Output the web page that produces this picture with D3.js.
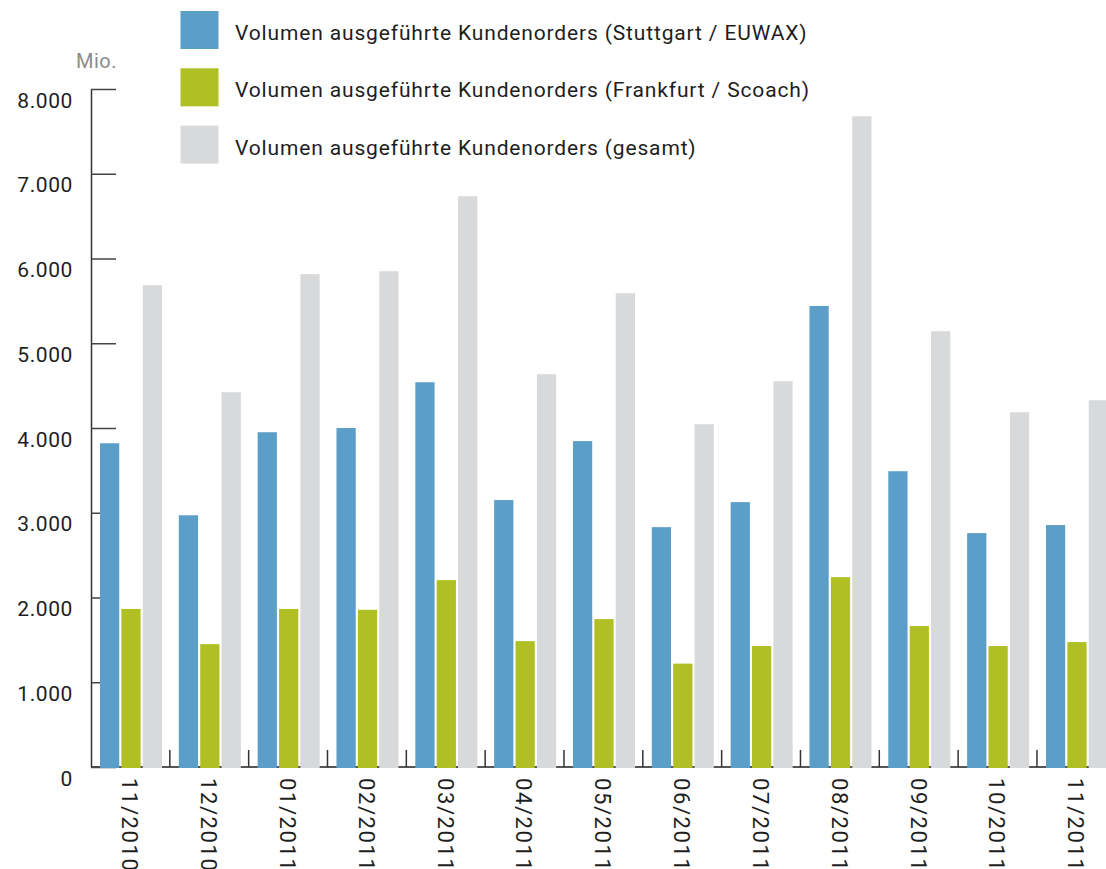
<!DOCTYPE html>
<html>
<head>
<meta charset="utf-8">
<script src="https://cdn.jsdelivr.net/npm/d3@7"></script>
<style>
  body { margin: 0; background: #fff; }
  svg text { font-family: Roboto, "Liberation Sans", sans-serif; fill: #1e1e1e; }
</style>
</head>
<body>
<svg width="1106" height="869"></svg>
<script>
var months = ["11/2010", "12/2010", "01/2011", "02/2011", "03/2011", "04/2011", "05/2011",
              "06/2011", "07/2011", "08/2011", "09/2011", "10/2011", "11/2011"];
var stuttgart = [3820, 2970, 3950, 4000, 4540, 3150, 3845, 2830, 3125, 5440, 3490, 2760, 2855];
var frankfurt = [1865, 1450, 1865, 1855, 2205, 1485, 1745, 1220, 1427, 2240, 1663, 1427, 1474];
var gesamt = [5685, 4422, 5815, 5850, 6735, 4635, 5590, 4045, 4552, 7678, 5142, 4186, 4328];
var seriesNames = [
  "Volumen ausgeführte Kundenorders (Stuttgart / EUWAX)",
  "Volumen ausgeführte Kundenorders (Frankfurt / Scoach)",
  "Volumen ausgeführte Kundenorders (gesamt)"
];
var seriesColors = ["#5b9ec8", "#b0c024", "#d8d9db"];
var yTicks = [0, 1000, 2000, 3000, 4000, 5000, 6000, 7000, 8000];

var svg = d3.select("svg");
var width = +svg.attr("width");
var de = d3.formatLocale({decimal: ",", thousands: ".", grouping: [3], currency: ["", " €"]});
var format = de.format(",d");

var x0 = d3.scaleBand()
  .domain(months)
  .range([91, 91 + 13 * 78.83]);
var x1 = d3.scaleBand()
  .domain([0, 1, 2])
  .range([9, 71])
  .paddingInner(0.1);
var y = d3.scaleLinear()
  .domain([0, 8000])
  .range([767, 89]);

// baseline + category separators
svg.append("line")
  .attr("x1", 91).attr("x2", width)
  .attr("y1", y(0)).attr("y2", y(0))
  .attr("stroke", "#555").attr("stroke-width", 2);

svg.selectAll(".sep")
  .data(months.slice(1))
  .enter().append("line")
  .attr("class", "sep")
  .attr("x1", function(d) { return x0(d); })
  .attr("x2", function(d) { return x0(d); })
  .attr("y1", y(0) - 17).attr("y2", y(0))
  .attr("stroke", "#333").attr("stroke-width", 1.5);

// y axis
var yAxis = svg.append("g")
  .attr("transform", "translate(91,0)")
  .call(d3.axisLeft(y).tickValues(yTicks).tickSize(-25).tickSizeOuter(0).tickPadding(18).tickFormat(format));
yAxis.select(".domain").attr("stroke", "#333").attr("stroke-width", 1.5);
yAxis.selectAll(".tick line").attr("stroke", "#444").attr("stroke-width", 1.5);
yAxis.selectAll(".tick text")
  .attr("dy", 18)
  .style("font-size", "21px")
  .style("letter-spacing", "0.6px")
  .style("font-family", "Roboto, sans-serif")
  .attr("fill", "#1e1e1e");

svg.append("text")
  .attr("x", 117).attr("y", 68)
  .attr("text-anchor", "end")
  .style("font-size", "20px")
  .style("letter-spacing", "0.5px")
  .style("fill", "#8c8c8c")
  .text("Mio.");

// bars
var rows = months.map(function(m, i) {
  return {month: m, values: [stuttgart[i], frankfurt[i], gesamt[i]]};
});

var group = svg.selectAll(".group")
  .data(rows)
  .enter().append("g")
  .attr("class", "group")
  .attr("transform", function(d) { return "translate(" + x0(d.month) + ",0)"; });

group.selectAll("rect")
  .data(function(d) { return d.values.map(function(v, k) { return {k: k, v: v}; }); })
  .enter().append("rect")
  .attr("x", function(d) { return x1(d.k); })
  .attr("width", x1.bandwidth())
  .attr("y", function(d) { return y(d.v); })
  .attr("height", function(d) { return y(0) - y(d.v) + 1; })
  .attr("fill", function(d) { return seriesColors[d.k]; });

// x labels, rotated (the reference crops them at the bottom edge too)
svg.selectAll(".xlabel")
  .data(months)
  .enter().append("text")
  .attr("class", "xlabel")
  .attr("transform", function(d) {
    return "translate(" + (x0(d) + x0.bandwidth() / 2 - 0.5) + ",778) rotate(90)";
  })
  .attr("dy", "0.35em")
  .style("font-size", "22px")
  .style("letter-spacing", "1.6px")
  .text(function(d) { return d; });

// legend
var legend = svg.selectAll(".legend")
  .data(seriesNames)
  .enter().append("g")
  .attr("class", "legend")
  .attr("transform", function(d, i) { return "translate(0," + (i * 57.3) + ")"; });

legend.append("rect")
  .attr("x", 180.5).attr("y", 11)
  .attr("width", 38).attr("height", 38)
  .attr("fill", function(d, i) { return seriesColors[i]; });

legend.append("text")
  .attr("x", 235).attr("y", 40)
  .style("font-size", "21px")
  .style("letter-spacing", "0.85px")
  .text(function(d) { return d; });
</script>
</body>
</html>
